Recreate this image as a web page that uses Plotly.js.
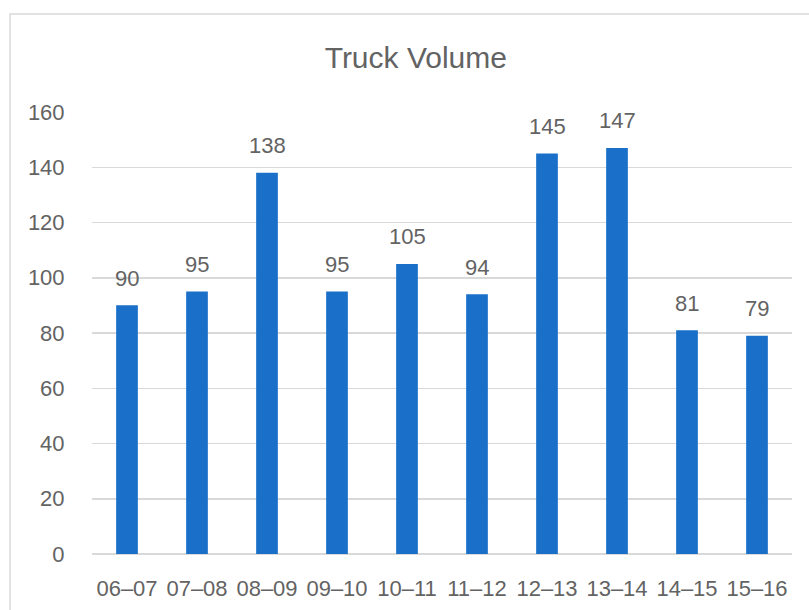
<!DOCTYPE html>
<html>
<head>
<meta charset="utf-8">
<script src="https://cdn.plot.ly/plotly-3.0.1.min.js"></script>
<style>html,body{margin:0;padding:0;background:#fff;}#chart{width:809px;height:610px;}</style>
</head>
<body>
<div id="chart"></div>
<script>
const categories = ["06–07","07–08","08–09","09–10","10–11","11–12","12–13","13–14","14–15","15–16"];
const values = [90, 95, 138, 95, 105, 94, 145, 147, 81, 79];
const yTicks = [0, 20, 40, 60, 80, 100, 120, 140, 160];

const FONT = "Liberation Sans, Arial, sans-serif";
const GRAY = "#636363";

const trace = {
  type: "bar",
  x: categories,
  y: values,
  width: 0.31,
  marker: {color: "#1a70c8"},
  hoverinfo: "x+y"
};

const annotations = categories.map((c, i) => ({
  x: c, y: values[i], xref: "x", yref: "y",
  text: String(values[i]), showarrow: false,
  yanchor: "middle", xanchor: "center", yshift: 27,
  font: {family: FONT, size: 22, color: GRAY}
}));

const layout = {
  width: 809, height: 610,
  margin: {l: 92, r: 17, t: 112, b: 56},
  paper_bgcolor: "#ffffff", plot_bgcolor: "#ffffff",
  showlegend: false,
  title: {
    text: "Truck Volume",
    font: {family: FONT, size: 30, color: GRAY},
    xref: "container", x: 0.514, xanchor: "center",
    yref: "container", y: 0.905, yanchor: "middle"
  },
  xaxis: {
    type: "category",
    tickfont: {family: FONT, size: 22, color: GRAY},
    showgrid: false, showline: false, zeroline: false,
    ticks: "outside", ticklen: 15, tickcolor: "rgba(0,0,0,0)"
  },
  yaxis: {
    range: [0, 160],
    tickvals: yTicks,
    ticktext: yTicks.map(String),
    tickfont: {family: FONT, size: 22, color: GRAY},
    showgrid: true, gridcolor: "#d9d9d9", gridwidth: 1.5,
    zeroline: true, zerolinecolor: "#d9d9d9", zerolinewidth: 1.5,
    showline: false,
    ticks: "outside", ticklen: 22, tickcolor: "rgba(0,0,0,0)"
  },
  annotations: annotations,
  shapes: [{
    type: "rect", xref: "paper", yref: "paper",
    x0: -0.1171, x1: 1.2, y0: -0.3, y1: 1.2217,
    line: {color: "#d9d9d9", width: 1.5},
    fillcolor: "rgba(0,0,0,0)", layer: "below"
  }]
};

Plotly.newPlot("chart", [trace], layout, {displayModeBar: false, staticPlot: true});
</script>
</body>
</html>
